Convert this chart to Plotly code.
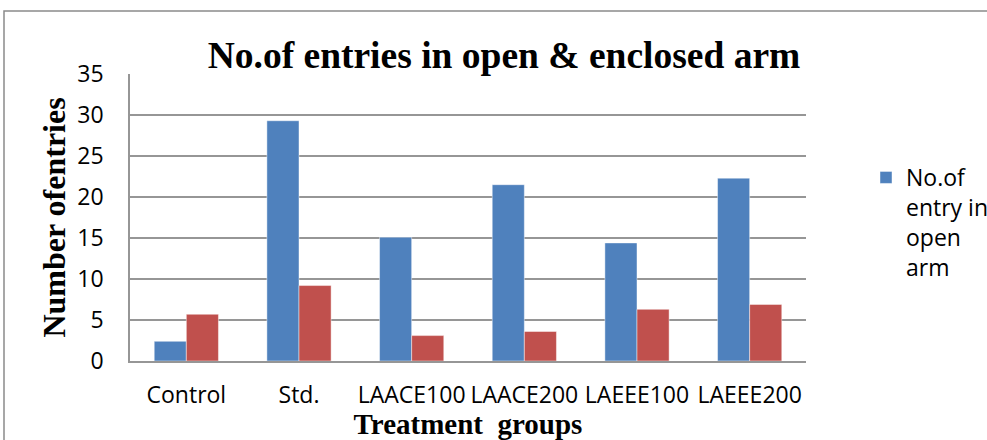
import plotly.graph_objects as go

categories = ["Control", "Std.", "LAACE100", "LAACE200", "LAEEE100", "LAEEE200"]
open_arm = [2.4, 29.3, 15.1, 21.5, 14.4, 22.3]
enclosed_arm = [5.7, 9.2, 3.1, 3.6, 6.3, 6.9]
y_ticks = [0, 5, 10, 15, 20, 25, 30, 35]

W, H = 987, 440
L, R, T, B = 130, 181, 74, 79
pw = W - L - R
ph = H - T - B

def px_x(x):
    return (x - L) / pw

def px_y(y):
    return (H - B - y) / ph

sans = "Open Sans"
serif = "Liberation Serif"

fig = go.Figure()
fig.add_trace(go.Bar(
    x=categories, y=open_arm, name="No.of<br>entry in<br>open<br>arm",
    marker=dict(color="#4F81BD", line=dict(color="rgba(255,255,255,0.45)", width=1)),
))
fig.add_trace(go.Bar(
    x=categories, y=enclosed_arm, name="No.of entry in enclosed arm", showlegend=False,
    marker=dict(color="#C0504D", line=dict(color="rgba(255,255,255,0.45)", width=1)),
))

fig.update_layout(
    width=W, height=H,
    margin=dict(l=L, r=R, t=T, b=B, autoexpand=False),
    paper_bgcolor="white", plot_bgcolor="white",
    barmode="group", bargap=0.43, bargroupgap=0,
    title=dict(text="<b>No.of entries in open & enclosed arm</b>",
               font=dict(family=serif, size=37.5, color="black"),
               xref="container", x=504 / W, xanchor="center",
               yref="container", y=1 - 55 / H, yanchor="middle"),
    legend=dict(x=px_x(866), xanchor="left", y=px_y(156), yanchor="top",
                valign="top", font=dict(family=sans, size=23, color="black"),
                bgcolor="rgba(0,0,0,0)", itemclick=False),
    showlegend=True,
)

fig.update_yaxes(
    range=[0, 35], tickvals=y_ticks, showgrid=True, gridcolor="#969696", gridwidth=1.5,
    showline=True, linecolor="#969696", linewidth=1.5, zeroline=False,
    tickfont=dict(family=sans, size=23, color="black"), ticklabelstandoff=20,
    title=dict(text="<b>Number ofentries</b>", font=dict(family=serif, size=32, color="black"), standoff=2),
)
fig.update_xaxes(
    showline=True, linecolor="#969696", linewidth=1.5, showgrid=False,
    tickfont=dict(family=sans, size=23, color="black"), ticklabelstandoff=13,
    title=dict(text="<b>Treatment  groups</b>", font=dict(family=serif, size=29, color="black"), standoff=0),
)

fig.add_shape(type="rect", xref="paper", yref="paper",
              x0=px_x(4), x1=px_x(1100), y0=px_y(600), y1=px_y(11),
              line=dict(color="#8a8a8a", width=1.5), layer="below")

fig.write_html("out.html")
